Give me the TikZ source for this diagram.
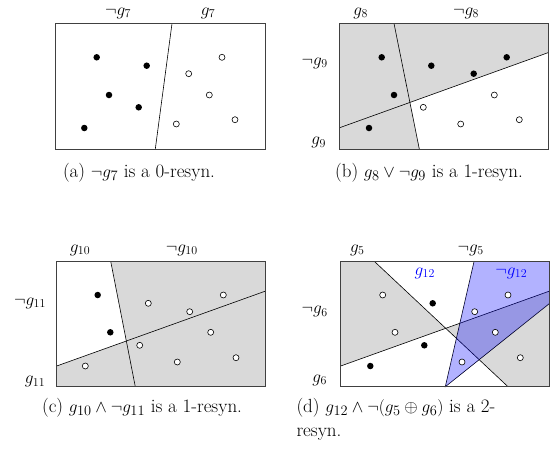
\documentclass[tikz,border=0pt]{standalone}
\usepackage{amsmath,amssymb}
\usepackage{xcolor}
\usepackage{tikz}
\usetikzlibrary{calc}
\tikzset{
  frame/.style={draw=black!75,line width=0.8pt},
  cut/.style={draw=black,line width=0.6pt},
  region/.style={fill=black!15},
  bluezone/.style={fill=blue,fill opacity=0.3},
  posdot/.style={circle,fill=black,inner sep=0pt,minimum size=6.5pt},
  negdot/.style={circle,draw=black,fill=white,inner sep=0pt,minimum size=6pt,line width=0.6pt},
  lab/.style={font=\fontsize{17}{20}\selectfont,inner sep=0pt},
  toplab/.style={lab,anchor=base},
  capt/.style={font=\fontsize{19}{24}\selectfont,inner sep=0pt,anchor=base}
}
\begin{document}
\begin{tikzpicture}[x=1pt,y=-1pt]
  \useasboundingbox (0,0) rectangle (556,458);

  % (a)
  \coordinate (a-nw) at (55,23.5);
  \coordinate (a-se) at (265,149);
  \draw[cut] (172,23.5) -- (155.3,149);
  \draw[frame] (a-nw) rectangle (a-se);
  \node[toplab] (a-l1) at (118,15) {$\neg g_7$};
  \node[toplab] (a-l2) at (208,15) {$g_7$};
  \foreach \p [count=\i] in {(96.7,57.3),(146.7,65.7),(109,95),(138.7,107.3),(84.3,128)}
    \node[posdot] (a-p\i) at \p {};
  \foreach \p [count=\i] in {(222,57.3),(188.7,73.7),(209.3,95),(235,119.7),(176.3,124)}
    \node[negdot] (a-n\i) at \p {};
  \node[capt] (a-cap) at (139,177.5) {(a) $\neg g_7$ is a 0-resyn.};

  % (b)
  \coordinate (b-nw) at (339.7,23.5);
  \coordinate (b-se) at (548,149);
  \coordinate (b-x) at (intersection of 394,23.5--419.3,149 and 339.7,127.7--548,52.7);
  \fill[region] (b-nw) -- (548,23.5) -- (548,52.7) -- (b-x) -- (419.3,149) -- (339.7,149) -- cycle;
  \draw[cut] (394,23.5) -- (419.3,149);
  \draw[cut] (339.7,127.7) -- (548,52.7);
  \draw[frame] (b-nw) rectangle (b-se);
  \node[toplab] (b-l1) at (360.7,15) {$g_8$};
  \node[toplab] (b-l2) at (466,15) {$\neg g_8$};
  \node[lab] (b-l3) at (314.7,63.3) {$\neg g_9$};
  \node[lab] (b-l4) at (318.7,142.7) {$g_9$};
  \foreach \p [count=\i] in {(381.7,57.3),(431.3,65.7),(473.7,73.7),(506.7,57.3),(394,95),(369,128)}
    \node[posdot] (b-p\i) at \p {};
  \foreach \p [count=\i] in {(494.3,95),(423.3,107.3),(460.7,124),(519.3,119.7)}
    \node[negdot] (b-n\i) at \p {};
  \node[capt] (b-cap) at (429,177.5) {(b) $g_8 \vee \neg g_9$ is a 1-resyn.};

  % (c)
  \coordinate (c-nw) at (56.7,261.3);
  \coordinate (c-se) at (265.7,386.7);
  \coordinate (c-x) at (intersection of 110.7,261.3--135.3,386.7 and 56.7,366--265.7,291);
  \fill[region] (110.7,261.3) -- (265.7,261.3) -- (c-se) -- (56.7,386.7) -- (56.7,366) -- (c-x) -- cycle;
  \draw[cut] (110.7,261.3) -- (135.3,386.7);
  \draw[cut] (56.7,366) -- (265.7,291);
  \draw[frame] (c-nw) rectangle (c-se);
  \node[toplab] (c-l1) at (80,252) {$g_{10}$};
  \node[toplab] (c-l2) at (181.7,252) {$\neg g_{10}$};
  \node[lab] (c-l3) at (30,303.3) {$\neg g_{11}$};
  \node[lab] (c-l4) at (35,381.7) {$g_{11}$};
  \foreach \p [count=\i] in {(97.7,295),(110.3,332.3)}
    \node[posdot] (c-p\i) at \p {};
  \foreach \p [count=\i] in {(148.3,303.3),(189.7,311.7),(223.3,295),(210.7,332.3),(139.7,345.3),(177.3,362),(236,357.7),(85.3,366)}
    \node[negdot] (c-n\i) at \p {};
  \node[capt] (c-cap) at (142,412.5) {(c) $g_{10} \wedge \neg g_{11}$ is a 1-resyn.};

  % (d)
  \coordinate (d-nw) at (340.7,261.7);
  \coordinate (d-se) at (549.7,386.7);
  \coordinate (d-x) at (intersection of 374.7,261.7--508,386.7 and 340.7,366--549.7,291);
  \fill[region] (d-nw) -- (374.7,261.7) -- (d-x) -- (340.7,366) -- cycle;
  \fill[region] (d-x) -- (549.7,291) -- (d-se) -- (508,386.7) -- cycle;
  \draw[cut] (374.7,261.7) -- (508,386.7);
  \draw[cut] (340.7,366) -- (549.7,291);
  \draw[cut] (474,261.7) -- (445.3,386.7) -- (549.7,303.3);
  \fill[bluezone] (474,261.7) -- (549.7,261.7) -- (549.7,303.3) -- (445.3,386.7) -- cycle;
  \draw[frame] (d-nw) rectangle (d-se);
  \node[toplab] (d-l1) at (357.3,252) {$g_5$};
  \node[toplab] (d-l2) at (470.7,252) {$\neg g_5$};
  \node[lab] (d-l3) at (314.7,311.7) {$\neg g_6$};
  \node[lab] (d-l4) at (319.7,380) {$g_6$};
  \node[lab,text=blue] (d-l5) at (424.7,273.3) {$g_{12}$};
  \node[lab,text=blue] (d-l6) at (511.3,273.3) {$\neg g_{12}$};
  \foreach \p [count=\i] in {(432.7,303.3),(424.3,345.3),(370.3,366)}
    \node[posdot] (d-p\i) at \p {};
  \foreach \p [count=\i] in {(382.7,295),(395,332.3),(508,295),(474.7,311.7),(495.3,332.3),(520.3,357.7),(462,362)}
    \node[negdot] (d-n\i) at \p {};
  \node[capt,anchor=base west,align=left] (d-cap) at (296.3,436.5)
    {(d) $g_{12} \wedge \neg(g_5 \oplus g_6)$ is a 2-\\resyn.};
\end{tikzpicture}
\end{document}
